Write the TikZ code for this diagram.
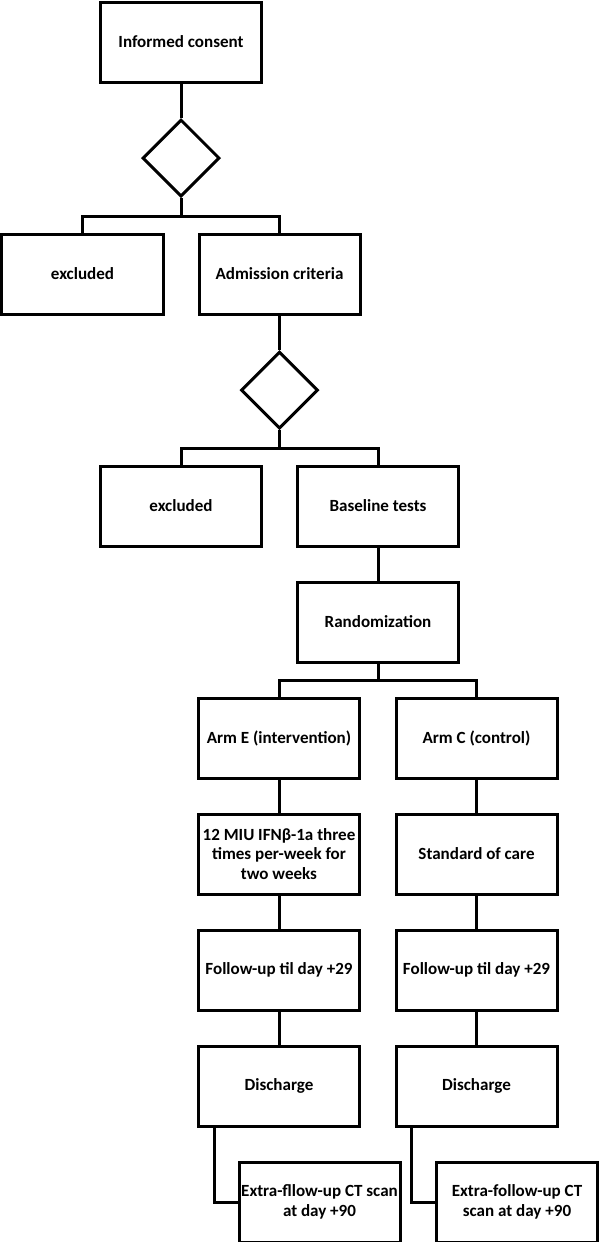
\documentclass[tikz,border=0pt]{standalone}
\usepackage{fontspec}
\setmainfont{Carlito}
\usepackage{tikz}
\usetikzlibrary{shapes,positioning}

\begin{document}
\begin{tikzpicture}[-, line width=0.06cm, node distance=2.32cm,
  box/.style={draw, rectangle, minimum width=3.22cm, minimum height=1.6cm, inner sep=1pt, align=center, font=\bfseries\fontsize{9.7}{11.2}\selectfont},
  choice/.style={draw, diamond, minimum width=1.54cm, minimum height=1.54cm, inner sep=0pt}]
\useasboundingbox (0,0) rectangle (12.02,-24.84);

\node[box] (ic) at (3.62,-0.84) {Informed consent};
\node[choice] (d1) [below of=ic] {};
\node[box] (ex1) [below of=d1, xshift=-1.97cm] {excluded};
\node[box] (adm) [below of=d1, xshift=1.97cm] {Admission criteria};
\node[choice] (d2) [below of=adm] {};
\node[box] (ex2) [below of=d2, xshift=-1.97cm] {excluded};
\node[box] (base) [below of=d2, xshift=1.97cm] {Baseline tests};
\node[box] (rand) [below of=base] {Randomization};

% two arms
\node[box] (armE) [below of=rand, xshift=-1.98cm] {Arm E (intervention)};
\node[box] (armC) [below of=rand, xshift=1.97cm] {Arm C (control)};
\node[box] (trtE) [below of=armE] {12 MIU IFNβ-1a three\\times per-week for\\two weeks};
\node[box] (trtC) [below of=armC] {Standard of care};
\node[box] (fuE) [below of=trtE] {Follow-up til day +29};
\node[box] (fuC) [below of=trtC] {Follow-up til day +29};
\node[box] (disE) [below of=fuE] {Discharge};
\node[box] (disC) [below of=fuC] {Discharge};
\node[box] (extE) [below of=disE, xshift=0.81cm] {Extra-fllow-up CT scan\\at day +90};
\node[box] (extC) [below of=disC, xshift=0.81cm] {Extra-follow-up CT\\scan at day +90};

\draw (ic) -- (d1);
\draw (d1.south) -- ++(0,-0.36) coordinate (j1);
\draw (j1) -| (ex1);
\draw (j1) -| (adm);

\draw (adm) -- (d2);
\draw (d2.south) -- ++(0,-0.36) coordinate (j2);
\draw (j2) -| (ex2);
\draw (j2) -| (base);

\draw (base) -- (rand);
\draw (rand.south) -- ++(0,-0.34) coordinate (j3);
\draw (j3) -| (armE);
\draw (j3) -| (armC);

\draw (armE) -- (trtE);
\draw (trtE) -- (fuE);
\draw (fuE) -- (disE);
\draw ([xshift=-1.3cm]disE.south) |- (extE.west);

\draw (armC) -- (trtC);
\draw (trtC) -- (fuC);
\draw (fuC) -- (disC);
\draw ([xshift=-1.31cm]disC.south) |- (extC.west);
\end{tikzpicture}
\end{document}
